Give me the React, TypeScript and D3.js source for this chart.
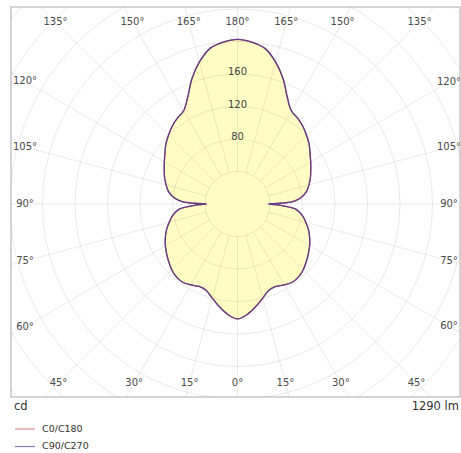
import * as d3 from 'd3';

// gamma angles (deg) and luminous intensity (cd)
const gammaAngles = [0, 5, 10, 15, 20, 25, 30, 35, 40, 45, 50, 55, 60, 65, 70, 75, 80, 85, 87.5, 89, 90, 91, 92.5, 95, 100, 105, 110, 115, 120, 125, 130, 135, 140, 145, 150, 155, 160, 165, 170, 175, 180];
const c0c180 = [141.5, 136.5, 128.5, 120, 113, 112, 115, 117.5, 117, 114.5, 110.5, 106.5, 102.5, 98, 93, 87, 81, 72, 58, 47, 38, 53, 68, 77, 86, 91, 95.5, 99.5, 104, 109, 115, 120, 125, 129, 132.5, 145, 164, 181, 194.5, 200, 202.7];
const c90c270 = [141.5, 136.5, 128.5, 120, 113, 112, 115, 117.5, 117, 114.5, 110.5, 106.5, 102.5, 98, 93, 87, 81, 72, 58, 47, 38, 53, 68, 77, 86, 91, 95.5, 99.5, 104, 109, 115, 120, 125, 129, 132.5, 145, 164, 181, 194.5, 200, 202.7];

const gridValues = [40, 80, 120, 160, 200, 240, 280, 320, 360, 400];
const radialLabels = [80, 120, 160];
const topLabels = [135, 150, 165, 180, 195, 210, 225];
const bottomLabels = [-45, -30, -15, 0, 15, 30, 45];
const sideLabels = [60, 75, 90, 105, 120];
const legendItems = [
  { label: 'C0/C180', color: '#e58a8a' },
  { label: 'C90/C270', color: '#7d7dc0' },
];
const flux = '1290 lm';
const unit = 'cd';

const W = 461;
const H = 453;
const frame = { x0: 11, y0: 7, x1: 460, y1: 397 };
const cx = 237.5;
const cy = 204;
const font = '"DejaVu Sans", Verdana, sans-serif';

const r = d3.scaleLinear().domain([0, 200]).range([0, 162.5]);

// screen point for a gamma angle on the right (side=1) or left (side=-1)
function pt(gamma: number, rad: number, side: number): [number, number] {
  const a = (gamma * Math.PI) / 180;
  return [cx + side * rad * Math.sin(a), cy + rad * Math.cos(a)];
}

function planePath(values: number[]) {
  const right = gammaAngles.map((g, i) => pt(g, r(values[i]), 1)).reverse();
  const left = gammaAngles.map((g, i) => pt(g, r(values[i]), -1));
  const pts = [...right, ...left.slice(1, -1)];
  return d3.line().curve(d3.curveCatmullRomClosed.alpha(0.5))(pts) || '';
}

function labelText(deg: number) {
  const v = deg > 180 ? 360 - deg : Math.abs(deg);
  return `${v}°`;
}

export default function App() {
  const p0 = planePath(c0c180);
  const p90 = planePath(c90c270);
  const rMin = r(40);
  const rMax = r(420);
  const spokes = d3.range(0, 360, 15);

  const topY = 22;
  const bottomY = 383;
  const leftX = 25;
  const rightX = 449;

  return (
    <svg
      width={W}
      height={H}
      style={{ position: 'absolute', left: 0, top: 0, background: '#fff' }}
      fontFamily={font}
    >
      <defs>
        <clipPath id="plot">
          <rect x={frame.x0} y={frame.y0} width={frame.x1 - frame.x0} height={frame.y1 - frame.y0} />
        </clipPath>
      </defs>
      <rect width={W} height={H} fill="#fff" />

      {/* fill */}
      <path d={p0} fill="#fffcc4" stroke="none" />

      {/* grid */}
      <g clipPath="url(#plot)" stroke="#000" strokeOpacity={0.085} fill="none" strokeWidth={1}>
        {gridValues.map((v) => (
          <circle key={v} cx={cx} cy={cy} r={r(v)} />
        ))}
        {spokes.map((s) => {
          const [x1, y1] = pt(s, rMin, 1);
          const [x2, y2] = pt(s, rMax, 1);
          return <line key={s} x1={x1} y1={y1} x2={x2} y2={y2} />;
        })}
      </g>

      {/* curves */}
      <path d={p0} fill="none" stroke="#c03a3a" strokeWidth={1.3} />
      <path d={p90} fill="none" stroke="#4a3fa0" strokeOpacity={0.8} strokeWidth={1.3} />

      {/* radial labels */}
      {radialLabels.map((v) => (
        <text key={v} x={cx} y={cy - r(v) - 2} textAnchor="middle" dominantBaseline="middle" fontSize={10} fill="#444">
          {v}
        </text>
      ))}

      {/* angle labels */}
      <g fontSize={10} fill="#4a4a4a" textAnchor="middle" dominantBaseline="middle"
         stroke="#fff" strokeWidth={3} paintOrder="stroke">
        {topLabels.map((g) => {
          const a = ((g - 180) * Math.PI) / 180;
          return <text key={`t${g}`} x={cx + (cy - topY) * Math.tan(a)} y={topY}>{labelText(g)}</text>;
        })}
        {bottomLabels.map((g) => {
          const a = (g * Math.PI) / 180;
          return <text key={`b${g}`} x={cx + (bottomY - cy) * Math.tan(a)} y={bottomY}>{labelText(g)}</text>;
        })}
        {sideLabels.map((g) => {
          const a = ((90 - g) * Math.PI) / 180;
          return (
            <g key={`s${g}`}>
              <text x={leftX} y={cy + (cx - leftX) * Math.tan(a)}>{`${g}°`}</text>
              <text x={rightX} y={cy + (rightX - cx) * Math.tan(a)}>{`${g}°`}</text>
            </g>
          );
        })}
      </g>

      {/* frame */}
      <rect x={frame.x0} y={frame.y0} width={frame.x1 - frame.x0} height={frame.y1 - frame.y0}
            fill="none" stroke="#aaa" strokeWidth={1} />

      <text x={14} y={410} fontSize={11.5} fill="#333">{unit}</text>
      <text x={459} y={410} fontSize={11.5} fill="#333" textAnchor="end">{flux}</text>

      {legendItems.map((it, i) => (
        <g key={it.label} transform={`translate(15,${429 + i * 17.5})`}>
          <line x1={0} x2={20} y1={0} y2={0} stroke={it.color} strokeWidth={1.2} />
          <text x={27} y={0} dominantBaseline="middle" fontSize={9.5} fill="#333">{it.label}</text>
        </g>
      ))}
    </svg>
  );
}
